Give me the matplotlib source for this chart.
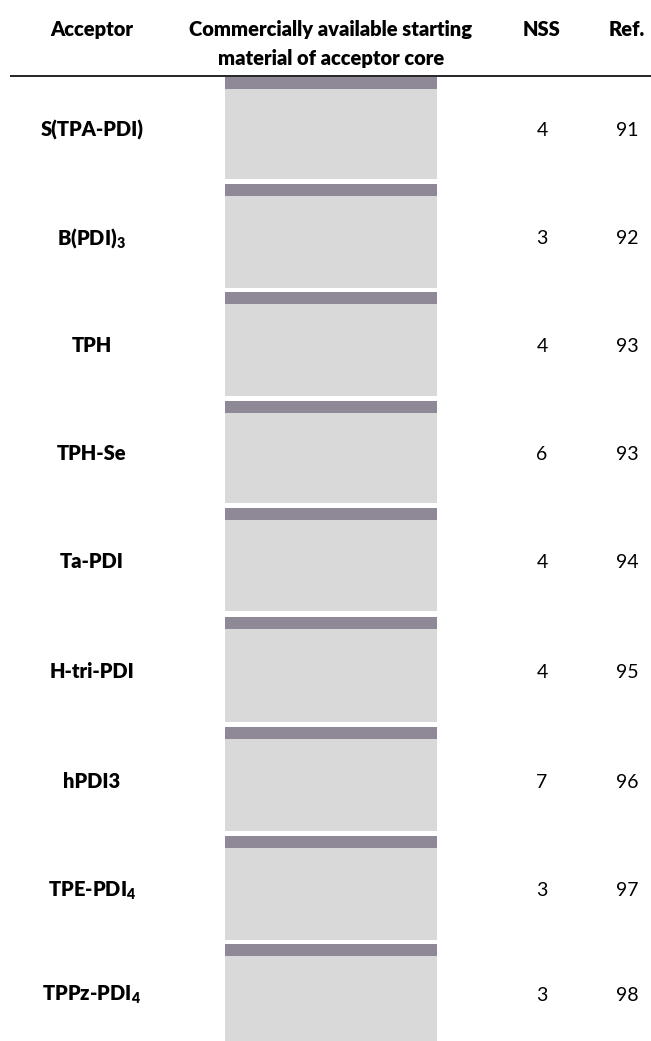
import matplotlib
matplotlib.use("Agg")
import matplotlib.pyplot as plt
from matplotlib.patches import Rectangle

# Table content
headers = ["Acceptor", "Commercially available starting\nmaterial of acceptor core", "NSS", "Ref."]
acceptors = ["S(TPA-PDI)", "B(PDI)$_3$", "TPH", "TPH-Se", "Ta-PDI",
             "H-tri-PDI", "hPDI3", "TPE-PDI$_4$", "TPPz-PDI$_4$"]
nss = [4, 3, 4, 6, 4, 4, 7, 3, 3]
refs = [91, 92, 93, 93, 94, 95, 96, 97, 98]

# Layout (pixel units)
W, H = 651, 1041
row_top = [77, 184, 292, 401, 508, 617, 727, 836, 944]
row_bottom = [179, 288, 396, 503, 611, 722, 831, 940, 1041]
col_x = [92, 331, 542, 627]
img_left, img_right = 225, 437
strip_h = 12

plt.rcParams["font.family"] = ["Lato", "DejaVu Sans"]
plt.rcParams["mathtext.fontset"] = "custom"
plt.rcParams["mathtext.rm"] = "Lato:heavy"
plt.rcParams["mathtext.bf"] = "Lato:heavy"
plt.rcParams["mathtext.it"] = "Lato:heavy"

fig = plt.figure(figsize=(W / 100, H / 100), dpi=100)
ax = fig.add_axes([0, 0, 1, 1])
ax.set_xlim(0, W)
ax.set_ylim(H, 0)
ax.axis("off")

fs = 14.5

# header
for x, h in zip(col_x, headers):
    for k, line in enumerate(h.split("\n")):
        ax.text(x, 36 + k * 29, line, ha="center", va="baseline",
                fontsize=fs, fontweight="heavy", color="black")
ax.plot([10, W], [76, 76], color="black", lw=1.2, solid_capstyle="butt")

# rows: placeholder image box + texts
for i in range(len(acceptors)):
    top, bot = row_top[i], row_bottom[i]
    ax.add_patch(Rectangle((img_left, top), img_right - img_left, bot - top,
                           facecolor="#d9d9d9", edgecolor="none"))
    ax.add_patch(Rectangle((img_left, top), img_right - img_left, strip_h,
                           facecolor="#8f8896", edgecolor="none"))
    yb = (top + min(bot, top + 104)) / 2 + 8.5
    ax.text(col_x[0], yb, acceptors[i], ha="center", va="baseline",
            fontsize=fs, fontweight="heavy", color="black")
    ax.text(col_x[2], yb, str(nss[i]), ha="center", va="baseline",
            fontsize=fs - 0.5, color="black")
    ax.text(col_x[3], yb, str(refs[i]), ha="center", va="baseline",
            fontsize=fs - 0.5, color="black")

fig.savefig("out.png", dpi=100, facecolor="white")
